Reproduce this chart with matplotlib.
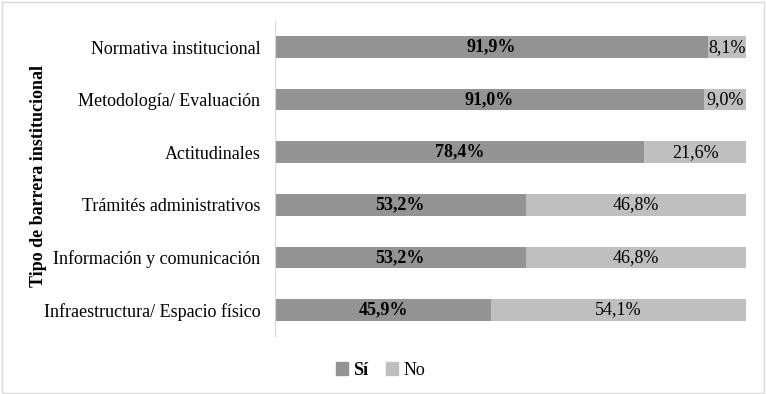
import matplotlib.pyplot as plt
import matplotlib.patches as mpatches
import numpy as np

plt.rcParams['font.family'] = ['Liberation Serif', 'DejaVu Serif']

categorias = ["Normativa institucional", "Metodología/ Evaluación", "Actitudinales",
              "Trámités administrativos", "Información y comunicación",
              "Infraestructura/ Espacio físico"]
si = [91.9, 91.0, 78.4, 53.2, 53.2, 45.9]
no = [8.1, 9.0, 21.6, 46.8, 46.8, 54.1]

c_si = "#939393"
c_no = "#bfbfbf"
fs = 13

fig = plt.figure(figsize=(7.66, 3.94), dpi=100)
ax = fig.add_axes([0.359, 0.147, 0.615, 0.800])

y = np.arange(len(categorias))
ax.barh(y, si, height=0.41, color=c_si, label="Sí")
ax.barh(y, no, left=si, height=0.41, color=c_no, label="No")

for i in range(len(categorias)):
    ax.text(si[i] / 2, y[i], f"{si[i]:.1f}%".replace(".", ","), ha="center", va="center",
            fontsize=fs, fontweight="bold", color="black")
    ax.text(si[i] + no[i] / 2, y[i], f"{no[i]:.1f}%".replace(".", ","), ha="center",
            va="center", fontsize=fs, color="black")

ax.set_xlim(0, 100)
ax.set_ylim(len(categorias) - 0.5, -0.5)
ax.set_yticks(y)
ax.set_yticklabels(categorias, fontsize=fs)
ax.set_xticks([])
ax.tick_params(axis="y", length=0, pad=10.5)
for s in ["top", "right", "bottom"]:
    ax.spines[s].set_visible(False)
ax.spines["left"].set_color("#d9d9d9")

fig.text(0.05, 0.553, "Tipo de barrera institucional", rotation=90, ha="center",
         va="center", fontsize=fs, fontweight="bold")

h1 = mpatches.Patch(color=c_si)
h2 = mpatches.Patch(color=c_no)
leg = fig.legend([h1, h2], ["Sí", "No"], loc="center", bbox_to_anchor=(0.497, 0.06),
                 ncol=2, frameon=False, fontsize=fs, handlelength=0.65, handleheight=0.65,
                 handletextpad=0.3, columnspacing=1.0)
leg.get_texts()[0].set_fontweight("bold")

fig.patches.append(mpatches.Rectangle((0.002, 0.003), 0.995, 0.993, transform=fig.transFigure,
                                      fill=False, edgecolor="#d9d9d9", linewidth=1))

fig.savefig("out.png", dpi=100)
